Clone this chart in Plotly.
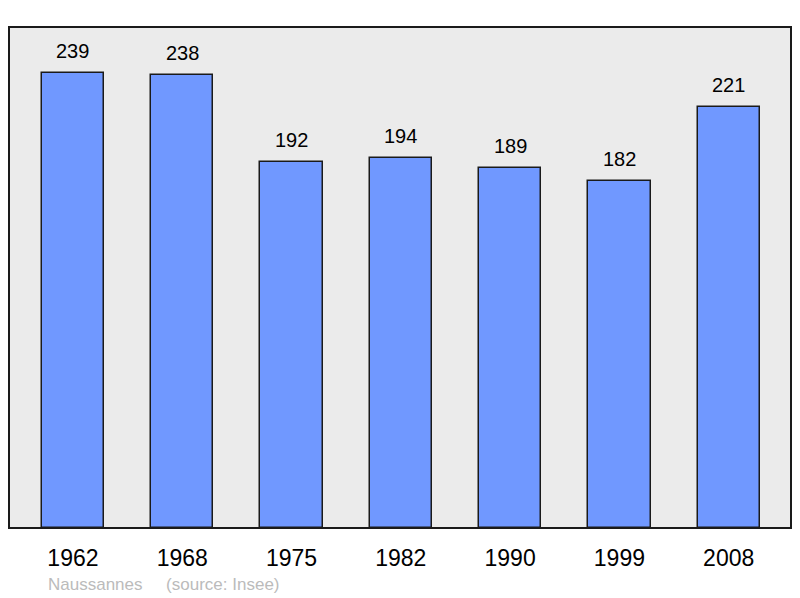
import plotly.graph_objects as go

years = ['1962', '1968', '1975', '1982', '1990', '1999', '2008']
population = [239, 238, 192, 194, 189, 182, 221]
commune = 'Naussannes'
source = '(source: Insee)'

idx = list(range(len(years)))

fig = go.Figure()
fig.add_trace(go.Bar(
    x=idx, y=population, width=0.57,
    marker=dict(color='#7098ff', line=dict(color='#1a1a1a', width=1.5)),
    hoverinfo='skip',
))

# value labels above each bar
for i, v in zip(idx, population):
    fig.add_annotation(x=i, y=v, text=str(v), showarrow=False, yshift=22,
                       font=dict(size=20, color='#000000'))

fig.add_annotation(xref='paper', yref='paper', x=0.047, y=-0.112, xanchor='left',
                   yanchor='middle',
                   text=commune + '&nbsp;&nbsp;&nbsp;&nbsp;&nbsp;' + source, showarrow=False,
                   font=dict(size=17, color='#bbbbbb'))

# frame around the plot area
fig.add_shape(type='rect', xref='paper', yref='paper', x0=0, y0=0, x1=1, y1=1,
              line=dict(color='#1a1a1a', width=2), layer='above')

# page body adds 8px offset, so figure is 784x590
fig.update_layout(
    width=784, height=590,
    margin=dict(l=1, r=1, t=19, b=70),
    paper_bgcolor='white', plot_bgcolor='#ebebeb',
    font=dict(family='Liberation Sans, Arial, sans-serif'),
    showlegend=False,
    bargap=0,
)
fig.update_xaxes(range=[-0.585, 6.57], tickvals=idx, ticktext=years,
                 showgrid=False, zeroline=False, ticks='outside', ticklen=9,
                 tickcolor='rgba(0,0,0,0)', tickfont=dict(size=23, color='#000000'))
fig.update_yaxes(range=[0, 263], showgrid=False, zeroline=False, showticklabels=False)

fig.write_html('out.html')
